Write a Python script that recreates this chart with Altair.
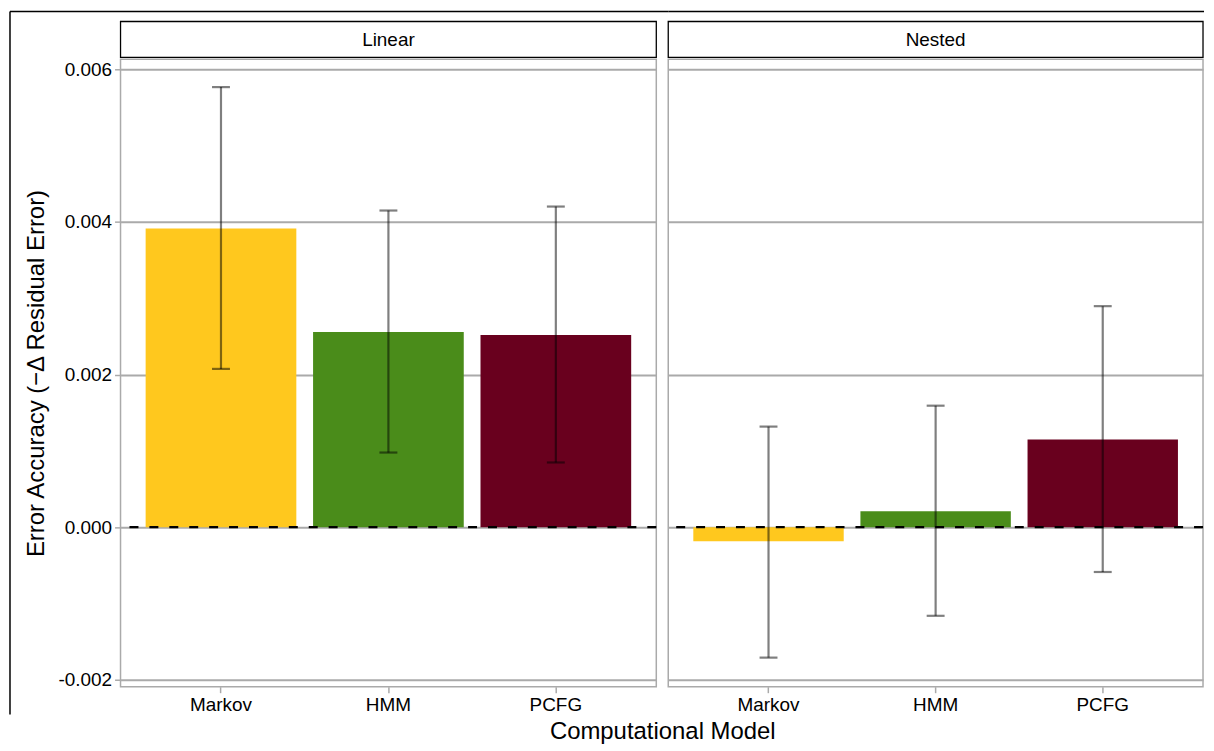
import altair as alt
import pandas as pd

models = ["Markov", "HMM", "PCFG"]
panels = ["Linear", "Nested"]
linear_mean = [0.003914, 0.002557, 0.002518]
linear_lo = [0.002074, 0.000978, 0.000848]
linear_hi = [0.005766, 0.004149, 0.004201]
nested_mean = [-0.000183, 0.000209, 0.001148]
nested_lo = [-0.001709, -0.001161, -0.000587]
nested_hi = [0.001318, 0.001592, 0.002896]
colors = ["#FFC81E", "#4A8C1A", "#69001E"]
y_ticks = [-0.002, 0.0, 0.002, 0.004, 0.006]
y_domain = [-0.00209, 0.00613]
zero_line = [0.0]

W_L, W_R, H = 538, 537, 630
GAP = 12
FONT = "Liberation Sans"
GRAY = "#aaaaaa"
LABEL_SIZE = 19


def panel(name, mean, lo, hi, width, left):
    df = pd.DataFrame({"model": models, "mean": mean, "lo": lo, "hi": hi})
    xenc = alt.X(
        "model:N",
        sort=models,
        scale=alt.Scale(paddingInner=0.1, paddingOuter=0.15),
        axis=alt.Axis(
            title=None, labelFontSize=LABEL_SIZE, labelFont=FONT, labelColor="black",
            labelAngle=0, domain=False, ticks=True, tickColor=GRAY,
            tickSize=6, tickWidth=1.5, labelPadding=3, grid=False,
        ),
    )
    if left:
        yaxis = alt.Axis(
            values=y_ticks,
            labelExpr="replace(format(datum.value, '.3f'), '\u2212', '-')",
            title="Error Accuracy (\u2212\u0394 Residual Error)",
            titleFontSize=24, titleFont=FONT, titleFontWeight="normal",
            titleColor="black", titlePadding=9,
            labelFontSize=LABEL_SIZE, labelFont=FONT, labelColor="black",
            tickColor=GRAY, tickSize=6, tickWidth=1.5, labelPadding=3,
            domain=False, grid=True, gridColor=GRAY, gridWidth=2,
        )
    else:
        yaxis = alt.Axis(
            values=y_ticks, labels=False, ticks=False, domain=False,
            title=None, grid=True, gridColor=GRAY, gridWidth=2,
        )
    yscale = alt.Scale(domain=y_domain, nice=False, zero=False)
    base = alt.Chart(df)
    bars = base.mark_bar().encode(
        x=xenc,
        y=alt.Y("mean:Q", scale=yscale, axis=yaxis),
        color=alt.Color("model:N", scale=alt.Scale(domain=models, range=colors), legend=None),
    )
    zero = alt.Chart(pd.DataFrame({"z": zero_line})).mark_rule(
        color="black", strokeDash=[9, 11], strokeWidth=2.3
    ).encode(y=alt.Y("z:Q"))
    err = base.mark_rule(color="black", opacity=0.5, strokeWidth=2.2).encode(
        x=alt.X("model:N", sort=models), y="lo:Q", y2="hi:Q"
    )
    cap_hi = base.mark_tick(color="black", opacity=0.5, size=18, thickness=2.2).encode(
        x=alt.X("model:N", sort=models), y="hi:Q"
    )
    cap_lo = base.mark_tick(color="black", opacity=0.5, size=18, thickness=2.2).encode(
        x=alt.X("model:N", sort=models), y="lo:Q"
    )
    sdf = pd.DataFrame({"panel": [name]})
    strip = alt.Chart(sdf).mark_rect(fill="white", stroke="black", strokeWidth=1.3).encode(
        x=alt.value(0), x2=alt.value(width), y=alt.value(-38), y2=alt.value(-2)
    )
    strip_text = alt.Chart(sdf).mark_text(fontSize=LABEL_SIZE, font=FONT, color="black").encode(
        text="panel:N", x=alt.value(width / 2), y=alt.value(-19)
    )
    layers = [bars, zero, err, cap_hi, cap_lo, strip, strip_text]
    if left:
        frame_left = alt.Chart(sdf).mark_rule(color="black", strokeWidth=1.5).encode(
            x=alt.value(-111), y=alt.value(-48), y2=alt.value(H + 28)
        )
        frame_top = alt.Chart(sdf).mark_rule(color="black", strokeWidth=1.5).encode(
            x=alt.value(-111), x2=alt.value(width + GAP), y=alt.value(-48)
        )
        layers += [frame_left, frame_top]
    else:
        frame_top = alt.Chart(sdf).mark_rule(color="black", strokeWidth=1.5).encode(
            x=alt.value(0), x2=alt.value(width + 1), y=alt.value(-48)
        )
        layers += [frame_top]
    return alt.layer(*layers).properties(width=width, height=H)


left_chart = panel(panels[0], linear_mean, linear_lo, linear_hi, W_L, True)
right_chart = panel(panels[1], nested_mean, nested_lo, nested_hi, W_R, False)

chart = alt.hconcat(left_chart, right_chart, spacing=GAP, bounds="flush").properties(
    title=alt.TitleParams(
        "Computational Model", orient="bottom", fontSize=24, font=FONT,
        fontWeight="normal", color="black", anchor="middle", dx=56, offset=4,
    ),
    padding={"left": 0, "top": 0, "right": 0, "bottom": 0},
    background="white",
).configure_view(stroke=GRAY, strokeWidth=1.5).resolve_scale(color="independent")

chart.save("out.html", embed_options={"renderer": "svg", "actions": False})
